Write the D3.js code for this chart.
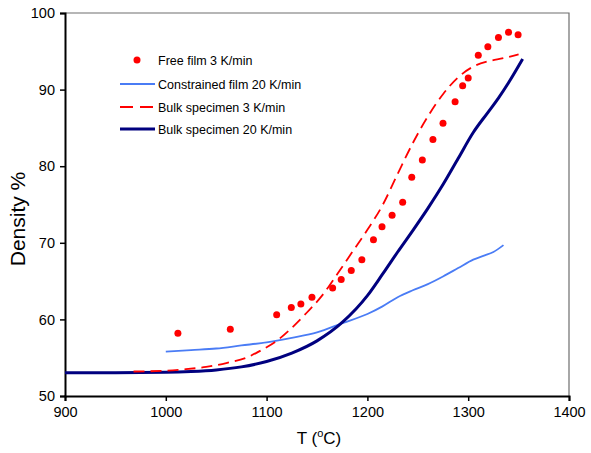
<!DOCTYPE html>
<html>
<head>
<meta charset="utf-8">
<script src="https://cdn.jsdelivr.net/npm/d3@7"></script>
<style>
  html, body { margin: 0; padding: 0; background: #fff; }
  svg { display: block; font-family: "Liberation Sans", Arial, sans-serif; }
</style>
</head>
<body>
<svg id="chart" width="591" height="453"></svg>
<script>
// ---- data ----
const xTicks = [900, 1000, 1100, 1200, 1300, 1400];
const yTicks = [50, 60, 70, 80, 90, 100];

const freeFilmT = [1012, 1064, 1110, 1124.5, 1134, 1145, 1165.5, 1174, 1184, 1194.5, 1206, 1214.5, 1224.5, 1235, 1244, 1254.5, 1265, 1275, 1287, 1294.5, 1300, 1310, 1319.5, 1330, 1340, 1349.5];
const freeFilmD = [58.2, 58.7, 60.6, 61.55, 62.0, 62.9, 64.1, 65.2, 66.4, 67.8, 70.4, 72.1, 73.6, 75.3, 78.55, 80.8, 83.5, 85.6, 88.4, 90.5, 91.5, 94.5, 95.6, 96.8, 97.5, 97.15];

const constrainedT = [1000, 1025, 1050, 1075, 1100, 1125, 1150, 1175, 1200, 1215, 1230, 1245, 1260, 1275, 1290, 1305, 1315, 1325, 1335];
const constrainedD = [55.8, 56.0, 56.2, 56.6, 57.0, 57.6, 58.3, 59.5, 60.7, 61.7, 62.9, 63.8, 64.6, 65.6, 66.7, 67.8, 68.3, 68.8, 69.7];

const bulk3T = [968, 1000, 1020, 1040, 1060, 1080, 1095, 1110, 1125, 1140, 1155, 1170, 1185, 1200, 1215, 1230, 1245, 1260, 1275, 1290, 1305, 1320, 1335, 1350];
const bulk3D = [53.2, 53.3, 53.5, 53.8, 54.3, 55.0, 56.0, 57.2, 58.9, 60.9, 63.1, 65.9, 68.8, 71.7, 74.9, 79.0, 83.0, 86.5, 89.4, 91.6, 93.0, 93.7, 94.1, 94.6];

const bulk20T = [900, 950, 1000, 1025, 1050, 1075, 1100, 1125, 1150, 1175, 1200, 1215, 1230, 1245, 1260, 1275, 1290, 1305, 1320, 1330, 1340, 1354];
const bulk20D = [53.05, 53.05, 53.1, 53.2, 53.4, 53.8, 54.5, 55.6, 57.2, 59.6, 63.1, 65.9, 68.8, 71.6, 74.5, 77.6, 81.0, 84.4, 87.1, 88.9, 90.9, 94.0];

const legendLabels = ["Free film 3 K/min", "Constrained film 20 K/min", "Bulk specimen 3 K/min", "Bulk specimen 20 K/min"];

// ---- drawing ----
const svg = d3.select("#chart");
const x = d3.scaleLinear().domain([900, 1400]).range([65, 569]);
const y = d3.scaleLinear().domain([50, 100]).range([396, 13]);

const zip = (a, b) => a.map((v, i) => [v, b[i]]);
const line = d3.line().x(d => x(d[0])).y(d => y(d[1])).curve(d3.curveMonotoneX);

// frame (top & right)
svg.append("path")
  .attr("d", `M${x(900)},${y(100)}H${x(1400)}V${y(50)}`)
  .attr("fill", "none").attr("stroke", "#6e6e6e").attr("stroke-width", 1.2);

// axes
const xAxis = svg.append("g").attr("transform", `translate(0,${y(50)})`)
  .call(d3.axisBottom(x).tickValues(xTicks).tickSize(5).tickPadding(6).tickFormat(d3.format("d")));
const yAxis = svg.append("g").attr("transform", `translate(${x(900)},0)`)
  .call(d3.axisLeft(y).tickValues(yTicks).tickSize(5).tickPadding(5).tickFormat(d3.format("d")));
[xAxis, yAxis].forEach(g => {
  g.select(".domain").attr("stroke", "#000").attr("stroke-width", 2);
  g.selectAll(".tick line").attr("stroke", "#000").attr("stroke-width", 1.5);
  g.selectAll(".tick text").attr("fill", "#000").style("font-size", "14.5px")
    .style("font-family", "'Liberation Sans', Arial, sans-serif");
});

// series
svg.append("path").datum(zip(constrainedT, constrainedD)).attr("d", line)
  .attr("fill", "none").attr("stroke", "#4a7cf5").attr("stroke-width", 1.8);
svg.append("path").datum(zip(bulk20T, bulk20D)).attr("d", line)
  .attr("fill", "none").attr("stroke", "#00007f").attr("stroke-width", 3);
svg.append("path").datum(zip(bulk3T, bulk3D)).attr("d", line)
  .attr("fill", "none").attr("stroke", "#ff0000").attr("stroke-width", 1.8)
  .attr("stroke-dasharray", "11,6");
svg.append("g").selectAll("circle").data(zip(freeFilmT, freeFilmD)).join("circle")
  .attr("cx", d => x(d[0])).attr("cy", d => y(d[1])).attr("r", 3.5).attr("fill", "#ff0000");

// axis titles
const xt = svg.append("text").attr("x", 319).attr("y", 444).attr("text-anchor", "middle")
  .style("font-size", "17px").attr("fill", "#000");
xt.append("tspan").text("T (");
xt.append("tspan").attr("dy", -7).style("font-size", "11px").text("o");
xt.append("tspan").attr("dy", 7).text("C)");
svg.append("text").attr("transform", "translate(25,219) rotate(-90)").attr("text-anchor", "middle")
  .style("font-size", "21px").attr("fill", "#000").text("Density %");

// legend
const lg = svg.append("g");
const ly = [60, 84, 107, 129];
lg.append("circle").attr("cx", 137).attr("cy", ly[0]).attr("r", 3.5).attr("fill", "#ff0000");
lg.append("line").attr("x1", 120).attr("x2", 155).attr("y1", ly[1]).attr("y2", ly[1])
  .attr("stroke", "#4a7cf5").attr("stroke-width", 1.8);
lg.append("line").attr("x1", 120).attr("x2", 155).attr("y1", ly[2]).attr("y2", ly[2])
  .attr("stroke", "#ff0000").attr("stroke-width", 1.8).attr("stroke-dasharray", "13,7");
lg.append("line").attr("x1", 120).attr("x2", 155).attr("y1", ly[3]).attr("y2", ly[3])
  .attr("stroke", "#00007f").attr("stroke-width", 3);
lg.selectAll("text.lbl").data(legendLabels).join("text").attr("class", "lbl")
  .attr("x", 158).attr("y", (d, i) => ly[i] + 4.5)
  .style("font-size", "12.5px").attr("fill", "#000").text(d => d);
</script>
</body>
</html>
